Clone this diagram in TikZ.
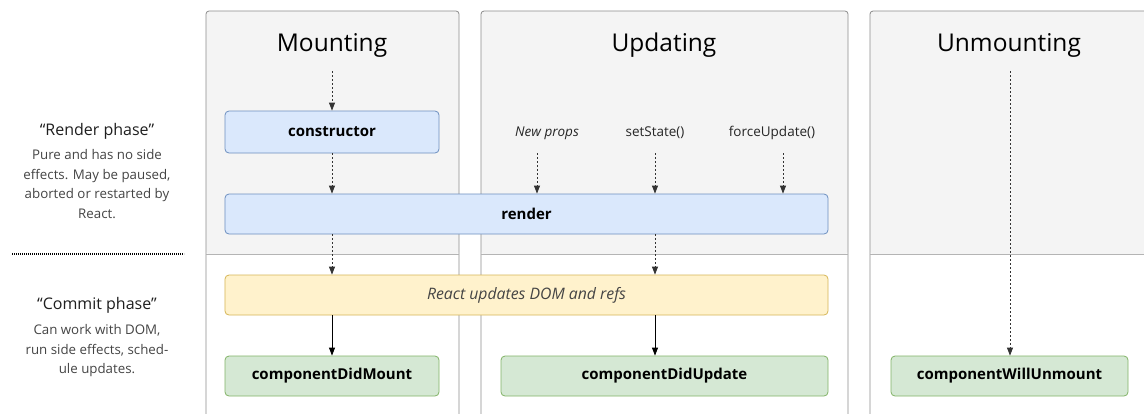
\documentclass[tikz,border=0pt]{standalone}
\usepackage{fontspec}
\setmainfont{Open Sans}
\usetikzlibrary{arrows.meta}
\definecolor{panelfill}{HTML}{F4F4F4}
\definecolor{panelline}{HTML}{8C8C8C}
\definecolor{sepline}{HTML}{B4B4B4}
\definecolor{bluefill}{HTML}{DAE8FC}
\definecolor{blueline}{HTML}{6C8EBF}
\definecolor{yelfill}{HTML}{FFF2CC}
\definecolor{yelline}{HTML}{D6B656}
\definecolor{grnfill}{HTML}{D5E8D4}
\definecolor{grnline}{HTML}{82B366}
\definecolor{desc}{HTML}{444444}
\tikzset{
  box/.style={rounded corners=4bp, line width=0.8bp, inner sep=0pt, minimum height=40bp, font=\fontsize{15bp}{18bp}\selectfont\bfseries},
  bluebox/.style={box, fill=bluefill, draw=blueline},
  yelbox/.style={box, fill=yelfill, draw=yelline, font=\fontsize{15.8bp}{18bp}\selectfont\itshape, text=desc},
  grnbox/.style={box, fill=grnfill, draw=grnline},
  title/.style={font=\fontsize{24.5bp}{28bp}\selectfont, text=black},
  trig/.style={font=\fontsize{13.5bp}{16bp}\selectfont, text=black!85},
  dotarrow/.style={draw=black!80, line width=0.8bp, dash pattern=on 2bp off 2bp, -{Triangle[width=6bp,length=8bp]}},
  solidarrow/.style={draw=black, line width=0.9bp, -{Triangle[width=6bp,length=8bp]}},
  phase/.style={font=\fontsize{16bp}{19bp}\selectfont, text=black!88},
  phasedesc/.style={font=\fontsize{13.3bp}{19.5bp}\selectfont, text=desc, align=center},
  panel/.style={draw=panelline, line width=0.8bp, rounded corners=3bp},
}
\begin{document}
\begin{tikzpicture}[x=1bp,y=-1bp]
\clip (0,0) rectangle (1144,413);
\fill[white] (0,0) rectangle (1144,413);
% panels
\foreach \a/\b in {206/459, 481/848, 870/1160}{
  \fill[panelfill, rounded corners=3bp] (\a,11) rectangle (\b,254);
  \draw[panel] (\a,430) -- (\a,11) -- (\b,11) -- (\b,430);
  \draw[sepline, line width=0.8bp] (\a,254) -- (\b,254);
}
% titles
\node[title] (mt) at (332,45) {Mounting};
\node[title] (ut) at (664,45) {Updating};
\node[title] (unt) at (1009,45) {Unmounting};
% boxes
\node[bluebox, minimum width=214bp, minimum height=42bp] (constructor) at (332,132) {constructor};
\node[bluebox, minimum width=603bp] (render) at (526.5,214) {render};
\node[yelbox, minimum width=603bp] (dom) at (526.5,295) {React updates DOM and refs};
\node[grnbox, minimum width=214bp] (cdm) at (332,376) {componentDidMount};
\node[grnbox, minimum width=327bp] (cdu) at (664.5,376) {componentDidUpdate};
\node[grnbox, minimum width=237bp] (cwu) at (1009.5,376) {componentWillUnmount};
% triggers
\node[trig, font=\fontsize{13.5bp}{16bp}\selectfont\itshape] (np) at (547,133) {New props};
\node[trig] (ss) at (655,133) {setState()};
\node[trig] (fu) at (772,133) {forceUpdate()};
% arrow starts
\coordinate (m0) at (332,71);
\coordinate (u0) at (1010,71);
\coordinate (np0) at (537,153);
\coordinate (ss0) at (655,153);
\coordinate (fu0) at (783,153);
% arrows
\draw[dotarrow] (m0) -- (constructor.north);
\draw[dotarrow] (constructor.south) -- (constructor.south |- render.north);
\draw[dotarrow] (np0) -- (np0 |- render.north);
\draw[dotarrow] (ss0) -- (ss0 |- render.north);
\draw[dotarrow] (fu0) -- (fu0 |- render.north);
\draw[dotarrow] (render.south -| constructor) -- (dom.north -| constructor);
\draw[dotarrow] (render.south -| ss0) -- (dom.north -| ss0);
\draw[solidarrow] (dom.south -| constructor) -- (cdm.north);
\draw[solidarrow] (dom.south -| ss0) -- (cdu.north -| ss0);
\draw[dotarrow] (u0) -- (u0 |- cwu.north);
% left side
\node[phase] (rp) at (97,131) {“Render phase”};
\node[phasedesc, anchor=north] (rpd) at (97,146) {Pure and has no side\\effects. May be paused,\\aborted or restarted by\\React.};
\coordinate (s0) at (12,254);
\coordinate (s1) at (184,254);
\draw[black, line width=1.2bp, dash pattern=on 1bp off 1bp] (s0) -- (s1);
\node[phase] (cp) at (97,305) {“Commit phase”};
\node[phasedesc, anchor=north] (cpd) at (97,321) {Can work with DOM,\\run side effects, sched-\\ule updates.};
\end{tikzpicture}
\end{document}
